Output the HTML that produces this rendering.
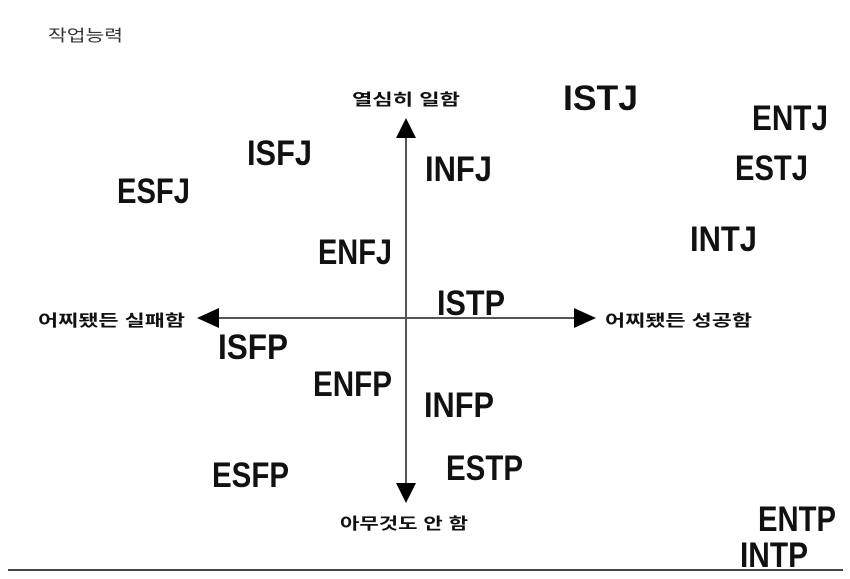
<!DOCTYPE html>
<html><head><meta charset="utf-8"><style>
html,body{margin:0;padding:0;background:#fff;}
svg{display:block}
.m{font-family:"Liberation Sans","Noto Sans CJK KR",sans-serif;font-weight:bold;font-size:35px;fill:#111}
.k{font-family:"Liberation Sans","Noto Sans CJK KR",sans-serif;font-weight:600;font-size:16px;fill:#111}
</style></head><body>
<svg width="850" height="579" viewBox="0 0 850 579" xmlns="http://www.w3.org/2000/svg">
<rect width="850" height="579" fill="#fff"/>
<text x="48" y="41" font-family="Liberation Sans,Noto Sans CJK KR,sans-serif" font-size="16" fill="#333" textLength="75" lengthAdjust="spacingAndGlyphs">작업능력</text>
<line x1="406" y1="130" x2="406" y2="488" stroke="#555" stroke-width="2"/>
<polygon points="406,118 396,138 416,138" fill="#000"/>
<polygon points="406,503 396,483 416,483" fill="#000"/>
<line x1="210" y1="318" x2="582" y2="318" stroke="#555" stroke-width="2"/>
<polygon points="197,318 219,308 219,328" fill="#000"/>
<polygon points="596,318 574,308 574,328" fill="#000"/>
<line x1="8" y1="570" x2="843" y2="570" stroke="#444" stroke-width="2"/>
<text class="k" x="352" y="105" textLength="108" lengthAdjust="spacingAndGlyphs">열심히 일함</text>
<text class="k" x="340" y="529" textLength="128" lengthAdjust="spacingAndGlyphs">아무것도 안 함</text>
<text class="k" x="38" y="326" textLength="147" lengthAdjust="spacingAndGlyphs">어찌됐든 실패함</text>
<text class="k" x="605" y="326" textLength="147" lengthAdjust="spacingAndGlyphs">어찌됐든 성공함</text>
<text class="m" x="563" y="110" textLength="75" lengthAdjust="spacingAndGlyphs">ISTJ</text>
<text class="m" x="752" y="130" textLength="76" lengthAdjust="spacingAndGlyphs">ENTJ</text>
<text class="m" x="735" y="180" textLength="73" lengthAdjust="spacingAndGlyphs">ESTJ</text>
<text class="m" x="690" y="251" textLength="67" lengthAdjust="spacingAndGlyphs">INTJ</text>
<text class="m" x="247" y="165" textLength="65" lengthAdjust="spacingAndGlyphs">ISFJ</text>
<text class="m" x="425" y="181" textLength="67" lengthAdjust="spacingAndGlyphs">INFJ</text>
<text class="m" x="117" y="203" textLength="73" lengthAdjust="spacingAndGlyphs">ESFJ</text>
<text class="m" x="318" y="264" textLength="74" lengthAdjust="spacingAndGlyphs">ENFJ</text>
<text class="m" x="437" y="315" textLength="68" lengthAdjust="spacingAndGlyphs">ISTP</text>
<text class="m" x="218" y="359" textLength="70" lengthAdjust="spacingAndGlyphs">ISFP</text>
<text class="m" x="313" y="396" textLength="79" lengthAdjust="spacingAndGlyphs">ENFP</text>
<text class="m" x="424" y="417" textLength="70" lengthAdjust="spacingAndGlyphs">INFP</text>
<text class="m" x="212" y="487" textLength="77" lengthAdjust="spacingAndGlyphs">ESFP</text>
<text class="m" x="446" y="480" textLength="77" lengthAdjust="spacingAndGlyphs">ESTP</text>
<text class="m" x="758" y="531" textLength="78" lengthAdjust="spacingAndGlyphs">ENTP</text>
<text class="m" x="740" y="567" textLength="68" lengthAdjust="spacingAndGlyphs">INTP</text>
</svg>
</body></html>
